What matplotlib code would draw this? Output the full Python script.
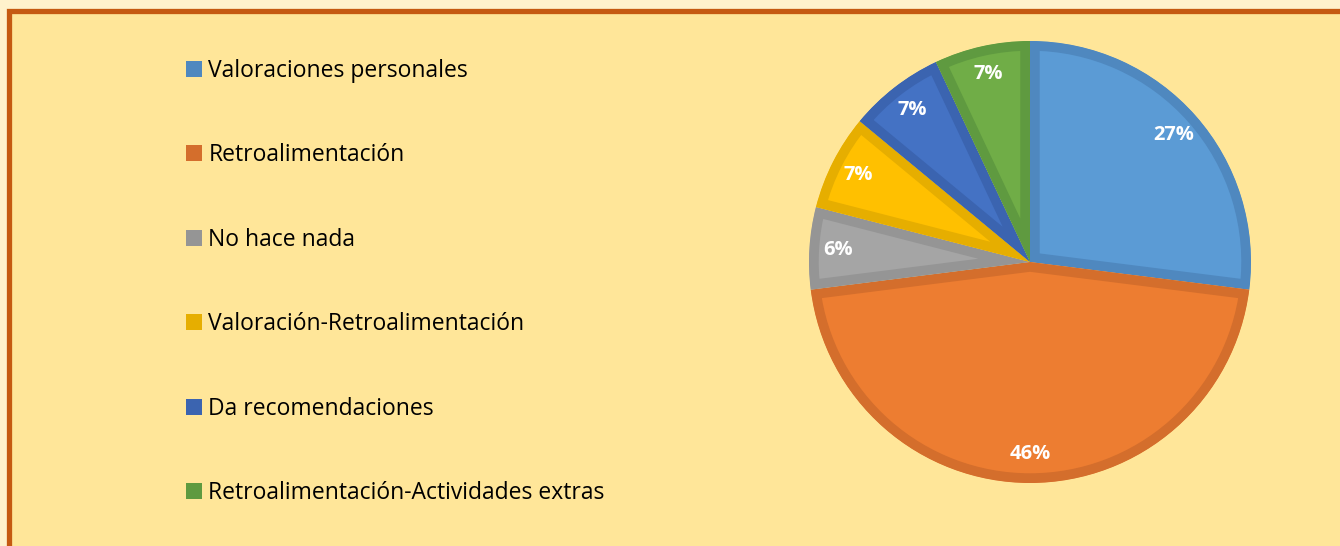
import matplotlib.pyplot as plt
from matplotlib.patches import Rectangle, Patch

# datos
categorias = ['Valoraciones personales', 'Retroalimentación', 'No hace nada',
              'Valoración-Retroalimentación', 'Da recomendaciones',
              'Retroalimentación-Actividades extras']
porcentajes = [27, 46, 6, 7, 7, 7]

relleno = ['#5B9BD5', '#ED7D31', '#A5A5A5', '#FFC000', '#4472C4', '#70AD47']
borde = ['#4F88BF', '#D46E2C', '#959595', '#E6AE00', '#3B64B0', '#5F9A40']

W, H = 1340, 546
fig = plt.figure(figsize=(W / 100, H / 100), dpi=100)
fig.patch.set_facecolor('#FFF2CC')

# marco
fig.patches.append(Rectangle((8.5 / W, -3 / H), 1.1, 1 - 10.5 / H + 3 / H,
                             transform=fig.transFigure, facecolor='#FFE699',
                             edgecolor='#C55A11', linewidth=3.8, zorder=-5))

cx, cy, r = 1030, 262, 221
ax = fig.add_axes([(cx - r) / W, (H - cy - r) / H, 2 * r / W, 2 * r / H])
ax.set_facecolor('none')
ax.set_zorder(2)

wedges, textos, pcts = ax.pie(porcentajes, colors=relleno, startangle=90,
                              counterclock=False, autopct='%.0f%%',
                              pctdistance=0.87, radius=1,
                              textprops=dict(color='white', fontsize=14.5,
                                             fontweight='bold',
                                             family='Open Sans'))
ax.set_xlim(-1, 1)
ax.set_ylim(-1, 1)
ax.set_aspect('equal')
# borde interior: trazo recortado a la propia porcion
for w, c in zip(wedges, borde):
    w.set_edgecolor(c)
    w.set_linewidth(14)
    w.set_clip_path(w)
    w.set_clip_on(True)

handles = [Patch(facecolor=c, edgecolor='none') for c in borde]
leg = fig.legend(handles, categorias, loc='center left',
                 bbox_to_anchor=(186 / W, 1 - 282 / H), frameon=False,
                 prop=dict(family='Open Sans', size=16.5), labelspacing=2.64,
                 handlelength=0.7, handleheight=0.7, handletextpad=0.28,
                 borderpad=0, borderaxespad=0)
leg.set_zorder(3)

fig.savefig('out.png', dpi=100, facecolor=fig.get_facecolor())
